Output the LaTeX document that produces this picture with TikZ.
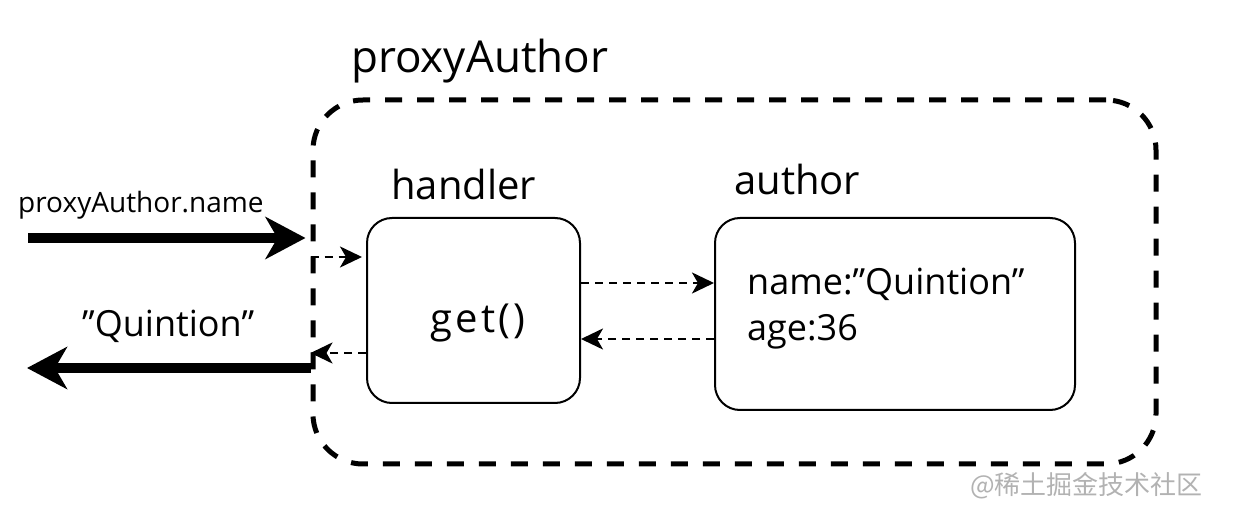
\documentclass[tikz,border=0pt]{standalone}
\usepackage{fontspec}
\setmainfont{Open Sans}
\newfontfamily\cjk{Noto Sans CJK SC}
\usetikzlibrary{arrows.meta}
\newcommand\fsz[1]{\fontsize{#1}{#1}\selectfont}
\begin{document}
\begin{tikzpicture}[x=1pt,y=-1pt,
  box/.style={draw, line width=2pt, rounded corners=25pt, inner sep=0pt},
  outerbox/.style={draw, line width=5pt, dash pattern=on 17pt off 15pt, rounded corners=50pt, inner sep=0pt},
  bigarrow/.style={line width=10pt, -{Stealth[length=40pt,width=42pt,inset=12pt]}},
  dasharrow/.style={line width=2.5pt, dash pattern=on 8pt off 6pt, -{Stealth[length=22pt,width=21pt,inset=6pt]}},
  lbl/.style={inner sep=0pt, anchor=base west},
]
\useasboundingbox (0,0) rectangle (1243,526);

\node[outerbox, minimum width=843pt, minimum height=364pt] (proxy) at (734.5,282) {};
\node[box, minimum width=213pt, minimum height=185pt] (handler) at (473.5,310.5) {};
\node[box, minimum width=360pt, minimum height=192pt] (author) at (895,314) {};

\node[lbl] (proxyLbl) at (351,73) {\fsz{44}proxyAuthor};
\node[lbl] (handlerLbl) at (391,200) {\fsz{40}handler};
\node[lbl] (authorLbl) at (734,195) {\fsz{40}author};
\node[inner sep=0pt, anchor=base] (get) at (478,333) {\fsz{40}\addfontfeature{LetterSpace=8}get()};
\node[lbl] (nameLine) at (747,295) {\fsz{36}name:”Quintion”};
\node[lbl] (ageLine) at (747,341) {\fsz{36}age:36};
\node[lbl] (callLbl) at (18,213) {\fsz{28}proxyAuthor.name};
\node[lbl] (retLbl) at (82,337) {\fsz{36}”Quintion”};
\node[lbl, text=black!30] (wm) at (970,495) {\fsz{26}\cjk @稀土掘金技术社区};

\coordinate (inStart) at (28,238);
\coordinate (outEnd) at (27,368);
\coordinate (yIn) at (0,257);
\coordinate (yOut) at (0,353);
\coordinate (yReq) at (0,283);
\coordinate (yRes) at (0,339);

\draw[bigarrow, shorten >=5pt] (inStart) -- (inStart -| proxy.west);
\draw[bigarrow] (outEnd -| proxy.west) -- (outEnd);
\draw[dasharrow, shorten >=4pt] (proxy.west |- yIn) -- (handler.west |- yIn);
\draw[dasharrow] (handler.west |- yOut) -- (proxy.west |- yOut);
\draw[dasharrow] (handler.east |- yReq) -- (author.west |- yReq);
\draw[dasharrow] (author.west |- yRes) -- (handler.east |- yRes);
\end{tikzpicture}
\end{document}
